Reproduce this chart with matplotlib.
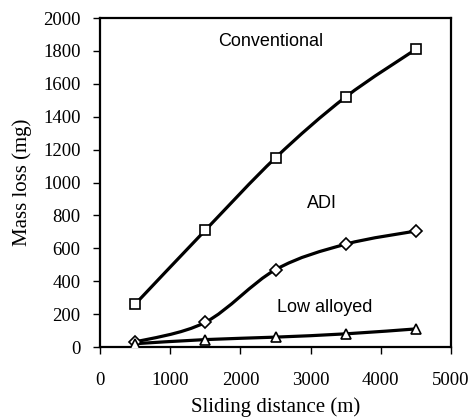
import numpy as np
import matplotlib
matplotlib.use("Agg")
import matplotlib.pyplot as plt
from matplotlib.path import Path
from matplotlib.patches import PathPatch

distance = [500, 1500, 2500, 3500, 4500]
conventional = [260, 710, 1150, 1520, 1810]
adi = [30, 150, 470, 625, 705]
low_alloyed = [20, 45, 60, 80, 110]
x_ticks = [0, 1000, 2000, 3000, 4000, 5000]
y_ticks = list(range(0, 2001, 200))

fig = plt.figure(figsize=(4.72, 4.2), dpi=100)
ax = fig.add_axes([100/472, (420-347)/420, 351/472, 329/420])

def smooth_path(xs, ys):
    xs = np.asarray(xs, float); ys = np.asarray(ys, float)
    n = len(xs)
    verts = [(xs[0], ys[0])]
    codes = [Path.MOVETO]
    for i in range(n - 1):
        p0 = np.array([xs[max(i-1, 0)], ys[max(i-1, 0)]])
        p1 = np.array([xs[i], ys[i]])
        p2 = np.array([xs[i+1], ys[i+1]])
        p3 = np.array([xs[min(i+2, n-1)], ys[min(i+2, n-1)]])
        c1 = p1 + (p2 - p0) / 6.0
        c2 = p2 - (p3 - p1) / 6.0
        verts += [tuple(c1), tuple(c2), tuple(p2)]
        codes += [Path.CURVE4] * 3
    return Path(verts, codes)

for ys, mk, ms in [(conventional, 's', 7.0), (adi, 'D', 6.5), (low_alloyed, '^', 7.5)]:
    ax.add_patch(PathPatch(smooth_path(distance, ys), fill=False, lw=2.3,
                           edgecolor='black', zorder=2))
    ax.plot(distance, ys, linestyle='none', marker=mk, ms=ms, mfc='white',
            mec='black', mew=1.2, zorder=3)

ax.set_xlim(0, 5000)
ax.set_ylim(0, 2000)
ax.set_xticks(x_ticks)
ax.set_yticks(y_ticks)
serif = 'Liberation Serif'
ax.set_xticklabels([str(v) for v in x_ticks], fontfamily=serif, fontsize=13.5)
ax.set_yticklabels([str(v) for v in y_ticks], fontfamily=serif, fontsize=13.5)
ax.tick_params(direction='out', length=5, width=1)
ax.tick_params(axis='x', pad=13)
ax.tick_params(axis='y', pad=9)
ax.set_xlabel('Sliding distance (m)', fontfamily=serif, fontsize=15, va='center')
ax.set_ylabel('Mass loss (mg)', fontfamily=serif, fontsize=15, va='center')
ax.xaxis.set_label_coords(0.5, (347-407)/329)
ax.yaxis.set_label_coords((22-100)/351, 0.5)
for s in ax.spines.values():
    s.set_linewidth(1.6)

sans = 'Liberation Sans'
ax.text(2430, 1855, 'Conventional', ha='center', va='center', fontfamily=sans, fontsize=13)
ax.text(3160, 875, 'ADI', ha='center', va='center', fontfamily=sans, fontsize=13)
ax.text(3205, 243, 'Low alloyed', ha='center', va='center', fontfamily=sans, fontsize=13)

fig.savefig('out.png', dpi=100)
